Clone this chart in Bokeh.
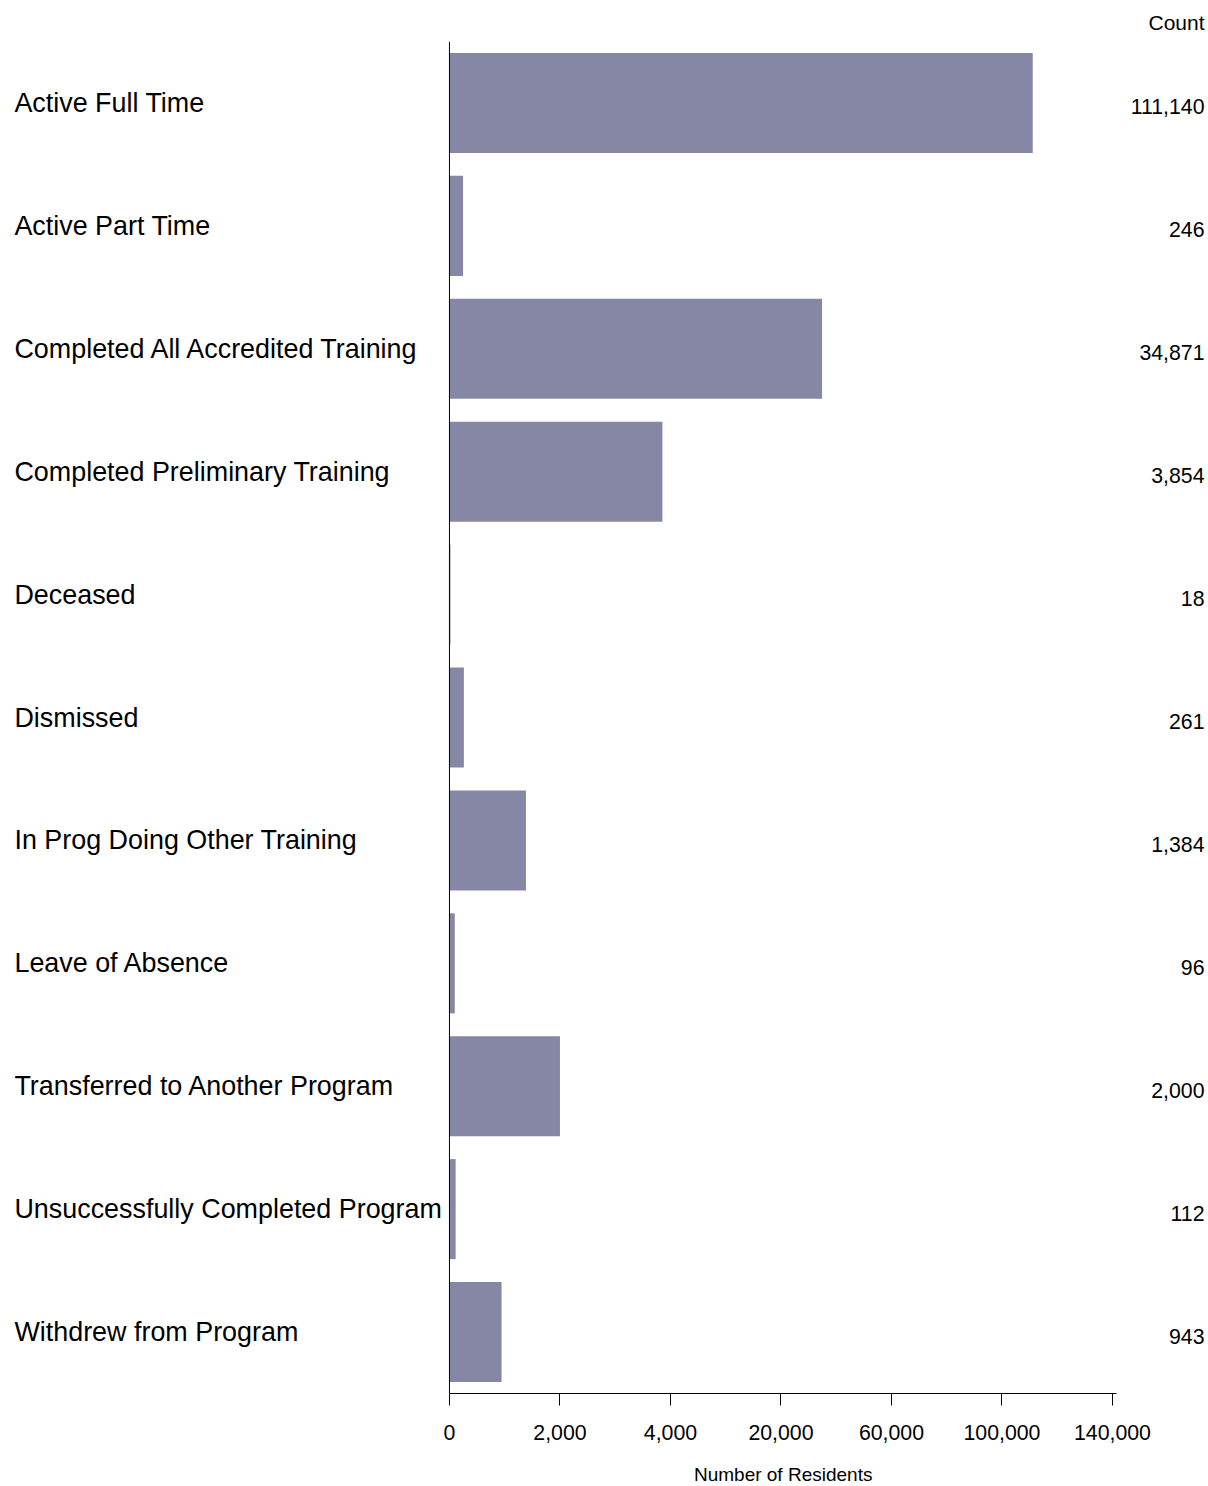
import numpy as np
from bokeh.plotting import figure
from bokeh.layouts import column
from bokeh.models import Range1d, FactorRange, ColumnDataSource, FixedTicker, Span
from bokeh.embed import file_html
from bokeh.resources import INLINE
from bokeh.core.properties import value

# ---- data ----
categories = [
    "Active Full Time",
    "Active Part Time",
    "Completed All Accredited Training",
    "Completed Preliminary Training",
    "Deceased",
    "Dismissed",
    "In Prog Doing Other Training",
    "Leave of Absence",
    "Transferred to Another Program",
    "Unsuccessfully Completed Program",
    "Withdrew from Program",
]
counts = [111140, 246, 34871, 3854, 18, 261, 1384, 96, 2000, 112, 943]
tick_values = [0, 2000, 4000, 20000, 60000, 100000, 140000]
tick_labels = ["0", "2,000", "4,000", "20,000", "60,000", "100,000", "140,000"]
x_title = "Number of Residents"
count_header = "Count"

# piecewise-linear axis: each tick interval gets equal width
tick_pos = list(range(len(tick_values)))


def scale(v):
    return np.interp(v, tick_values, tick_pos)


FONT = "Liberation Sans"
BAR_COLOR = "#8687A5"
W = 1208
H_MAIN = 1443
H_FOOT = 1486 - H_MAIN

source = ColumnDataSource(dict(
    cat=categories,
    pos=scale(counts),
    label=[f"{c:,}" for c in counts],
))

x_range = Range1d(-4.063, 6.869)

p = figure(
    width=W, height=H_MAIN,
    y_range=FactorRange(factors=categories[::-1], range_padding=0),
    x_range=x_range,
    output_backend="svg", toolbar_location=None,
    y_axis_location=None,
    min_border_left=0, min_border_right=0,
    min_border_top=41, min_border_bottom=50,
)
p.outline_line_color = None
p.grid.visible = False

p.title.text = count_header
p.title.align = "right"
p.title.offset = 4
p.title.standoff = 16
p.title.text_font = FONT
p.title.text_font_size = "21px"
p.title.text_font_style = "normal"
p.title.text_color = "#000000"

p.hbar(y="cat", left=0, right="pos", height=0.814, source=source,
       fill_color=BAR_COLOR, line_color=None)

# y axis line at zero
p.add_layout(Span(location=0, dimension="height", line_color="#000000", line_width=1))

# category labels
p.text(x=-3.937, y="cat", text="cat", source=source, text_align="left",
       text_baseline="middle", text_font=value(FONT), text_font_size="26.9px",
       text_color="#000000")
# count labels
p.text(x=6.833, y="cat", text="label", source=source, text_align="right",
       text_baseline="middle", y_offset=4, text_font=value(FONT),
       text_font_size="21.3px", text_color="#000000")

ax = p.xaxis[0]
ax.bounds = (0, 6.04)
ax.ticker = FixedTicker(ticks=tick_pos, minor_ticks=[])
ax.major_label_overrides = {i: t for i, t in zip(tick_pos, tick_labels)}
ax.major_tick_out = 12
ax.major_tick_in = 0
ax.minor_tick_out = 0
ax.minor_tick_in = 0
ax.axis_line_color = "#000000"
ax.major_tick_line_color = "#000000"
ax.major_label_text_font = FONT
ax.major_label_text_font_size = "21.3px"
ax.major_label_text_color = "#000000"
ax.major_label_standoff = 19

# footer strip sharing the x scale: axis title centred under the axis bounds
foot = figure(
    width=W, height=H_FOOT, x_range=x_range, y_range=Range1d(0, H_FOOT),
    output_backend="svg", toolbar_location=None,
    x_axis_location=None, y_axis_location=None,
    min_border=0, min_border_left=0, min_border_right=0,
    min_border_top=0, min_border_bottom=0,
)
foot.outline_line_color = None
foot.grid.visible = False
foot.text(x=[sum(ax.bounds) / 2], y=[12], text=[x_title], text_align="center",
          text_baseline="middle", text_font=value(FONT), text_font_size="19px",
          text_color="#000000")

layout = column(p, foot, spacing=0)
open("out.html", "w").write(file_html(layout, INLINE))
